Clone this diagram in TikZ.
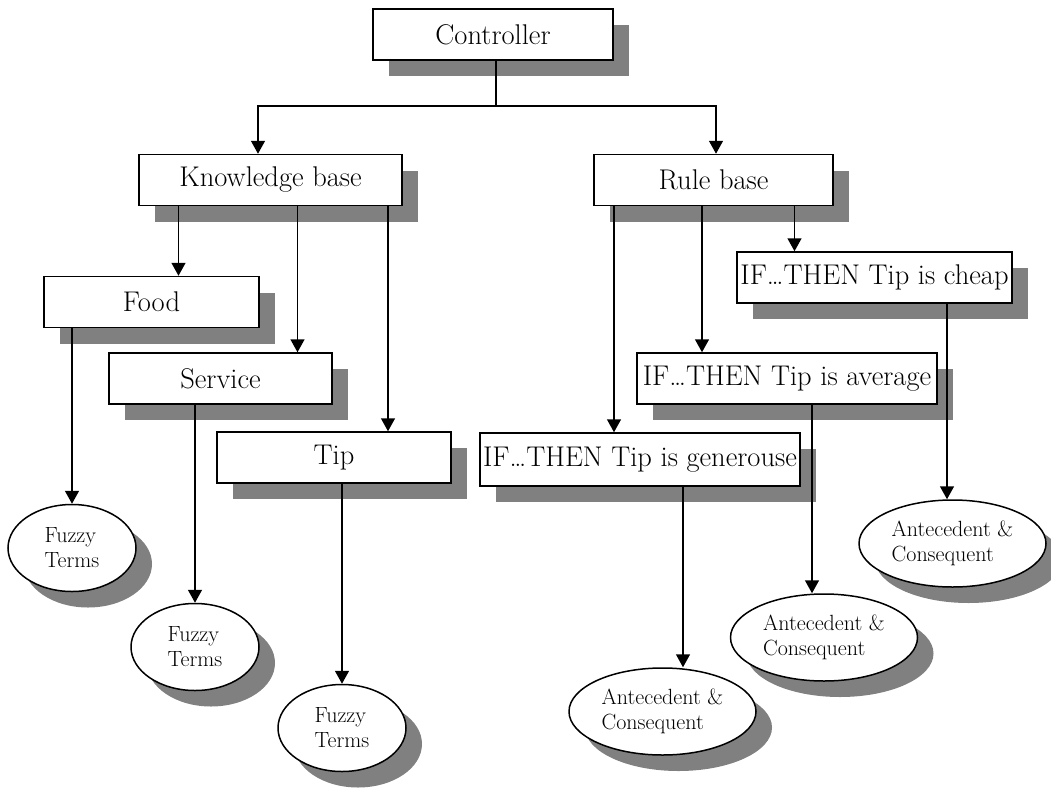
\documentclass[tikz,border=0pt]{standalone}
\usetikzlibrary{shapes.geometric,shadows,arrows.meta}

\begin{document}
\begin{tikzpicture}[x=1pt, y=-1pt,
  box/.style={draw, fill=white, line width=1.5pt, inner sep=0pt, minimum height=51pt,
    general shadow={fill=gray, shadow xshift=16pt, shadow yshift=-16pt},
    font=\fontsize{28.5}{32}\selectfont},
  term/.style={ellipse, draw, fill=white, line width=1.5pt, inner sep=0pt,
    minimum width=187pt, minimum height=87pt, align=left,
    general shadow={fill=gray, shadow xshift=16pt, shadow yshift=-16pt},
    font=\fontsize{22}{25}\selectfont},
  arr/.style={-{Triangle[width=14pt,length=13pt]}, line width=1.5pt}]

\useasboundingbox (0,0) rectangle (1051,787);

% boxes
\node[box, minimum width=240pt](ctrl) at (493,34.5) {Controller};
\node[box, minimum width=263pt](kb) at (270.5,180) {Knowledge base};
\node[box, minimum width=239pt](rb) at (713.5,180) {Rule base};
\node[box, minimum width=215pt](food) at (151.5,302) {Food};
\node[box, minimum width=223pt](serv) at (220.5,378.5) {Service};
\node[box, minimum width=234pt](tip) at (334,457.5) {Tip};
\node[box, minimum width=275pt](cheap) at (874.5,277.5) {IF\textellipsis THEN Tip is cheap};
\node[box, minimum width=300pt](avg) at (787,378.5) {IF\textellipsis THEN Tip is average};
\node[box, minimum width=320pt, minimum height=53pt](gen) at (640,459.5) {IF\textellipsis THEN Tip is generouse};

% ellipses
\node[term, minimum width=128pt](ft1) at (72,548) {Fuzzy\\Terms};
\node[term, minimum width=128pt](ft2) at (195,647) {Fuzzy\\Terms};
\node[term, minimum width=128pt](ft3) at (342,728) {Fuzzy\\Terms};
\node[term](ac1) at (662.5,711.5) {Antecedent \&\\Consequent};
\node[term](ac2) at (824,637.5) {Antecedent \&\\Consequent};
\node[term](ac3) at (952.5,543.5) {Antecedent \&\\Consequent};

\coordinate (bar) at (496,106);
\coordinate (k-in) at ([xshift=-12.5pt]kb.north);
\coordinate (r-in) at ([xshift=2.5pt]rb.north);
\coordinate (f-in) at ([xshift=27pt]food.north);
\coordinate (s-in) at ([xshift=77pt]serv.north);
\coordinate (t-in) at ([xshift=54pt]tip.north);
\coordinate (g-in) at ([xshift=-26pt]gen.north);
\coordinate (a-in) at ([xshift=-85pt]avg.north);
\coordinate (c-in) at ([xshift=-80pt]cheap.north);
\coordinate (g-out) at ([xshift=43pt]gen.south);
\coordinate (a-out) at ([xshift=25pt]avg.south);
\coordinate (c-out) at ([xshift=72.5pt]cheap.south);

% connectors
\draw[arr] (bar |- ctrl.south) -- (bar) -| (k-in);
\draw[arr] (bar) -| (r-in);
\draw[arr] (kb.south -| f-in) -- (f-in);
\draw[arr] (kb.south -| s-in) -- (s-in);
\draw[arr] (kb.south -| t-in) -- (t-in);
\draw[arr] (rb.south -| g-in) -- (g-in);
\draw[arr] (rb.south -| a-in) -- (a-in);
\draw[arr] (rb.south -| c-in) -- (c-in);
\draw[arr] (food.south -| ft1.north) -- (ft1.north);
\draw[arr] (serv.south -| ft2.north) -- (ft2.north);
\draw[arr] (tip.south -| ft3.north) -- (ft3.north);
\draw[arr] (g-out) -- (g-out |- ac1.north);
\draw[arr] (a-out) -- (a-out |- ac2.north);
\draw[arr] (c-out) -- (c-out |- ac3.north);

\end{tikzpicture}
\end{document}
